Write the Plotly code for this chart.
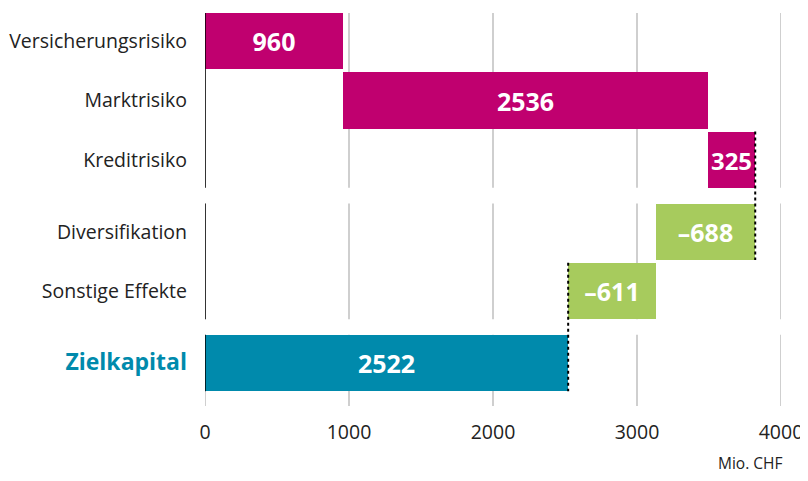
import plotly.graph_objects as go

categories = ["Versicherungsrisiko", "Marktrisiko", "Kreditrisiko",
              "Diversifikation", "Sonstige Effekte", "Zielkapital"]
values = [960, 2536, 325, -688, -611, 2522]
kinds = ["risk", "risk", "risk", "effect", "effect", "total"]
groups = [0, 0, 0, 1, 1, 2]
x_ticks = [0, 1000, 2000, 3000, 4000]
unit_label = "Mio. CHF"

colors = {"risk": "#C0006F", "effect": "#A7CB5D", "total": "#008AAC"}
GAP = 0.215
BW = 0.95
HALF = BW / 2

pos = []
p = 0.0
for i, g in enumerate(groups):
    if i > 0:
        p += 1.0 + (GAP if g != groups[i - 1] else 0.0)
    pos.append(p)

bases = []
running = 0
for v, k in zip(values, kinds):
    if k == "total":
        bases.append(0)
    else:
        bases.append(running)
        running += v

def fmt(v):
    return f"\u2013{abs(v)}" if v < 0 else f"{v}"

fig = go.Figure(go.Bar(
    y=pos, x=values, base=bases, orientation="h", width=BW,
    marker=dict(color=[colors[k] for k in kinds], line=dict(width=0)),
    text=[fmt(v) for v in values], textposition="inside",
    insidetextanchor="middle", textangle=0,
    textfont=dict(color="white", size=25, family="Open Sans", weight="bold"),
    hoverinfo="skip", showlegend=False,
))

y_bottom = pos[-1] + HALF + 0.25
shapes = []
seg = []
for g in sorted(set(groups)):
    idx = [i for i, gg in enumerate(groups) if gg == g]
    top = pos[idx[0]] - HALF
    bot = pos[idx[-1]] + HALF
    seg.append((top, bot, idx))
seg[-1] = (seg[-1][0], y_bottom, seg[-1][2])
for top, bot, idx in seg:
    for xv in x_ticks:
        shapes.append(dict(type="line", x0=xv, x1=xv, y0=top, y1=bot,
                           line=dict(color="#BFBFBF", width=1.5), layer="below"))
    bar_bot = pos[idx[-1]] + HALF
    shapes.append(dict(type="line", x0=0, x1=0, y0=top, y1=bar_bot,
                       line=dict(color="black", width=1.5), layer="above"))

for i in range(1, len(values)):
    if groups[i] != groups[i - 1]:
        xv = bases[i - 1] + values[i - 1]
        shapes.append(dict(type="line", x0=xv, x1=xv,
                           y0=pos[i - 1] - HALF, y1=pos[i] + HALF,
                           line=dict(color="black", width=2, dash="dot"),
                           layer="above"))

ticktext = []
for c, k in zip(categories, kinds):
    if k == "total":
        ticktext.append(f"<b><span style='color:{colors['total']};font-size:23px'>{c}</span></b>")
    else:
        ticktext.append(c)

fig.update_layout(
    width=800, height=465,
    margin=dict(l=197, r=27, t=5, b=67, autoexpand=False),
    plot_bgcolor="white", paper_bgcolor="white",
    font=dict(family="Open Sans", size=19, color="#222222"),
    shapes=shapes,
    xaxis=dict(range=[0, 4000], tickvals=x_ticks, ticktext=[str(t) for t in x_ticks],
               showgrid=False, zeroline=False, showline=False,
               ticklabeloverflow="allow",
               ticklabelstandoff=12, tickfont=dict(size=19.5)),
    yaxis=dict(range=[y_bottom, -HALF], tickvals=pos, ticktext=ticktext,
               showgrid=False, zeroline=False, showline=False,
               ticklabelstandoff=17, tickfont=dict(size=19.5)),
    annotations=[dict(text=unit_label, xref="paper", yref="paper", x=1.0, y=-0.112,
                      xanchor="right", yanchor="top", showarrow=False, xshift=3,
                      font=dict(size=15.5, color="#222222"))],
    bargap=0,
)

fig.write_html("out.html")
